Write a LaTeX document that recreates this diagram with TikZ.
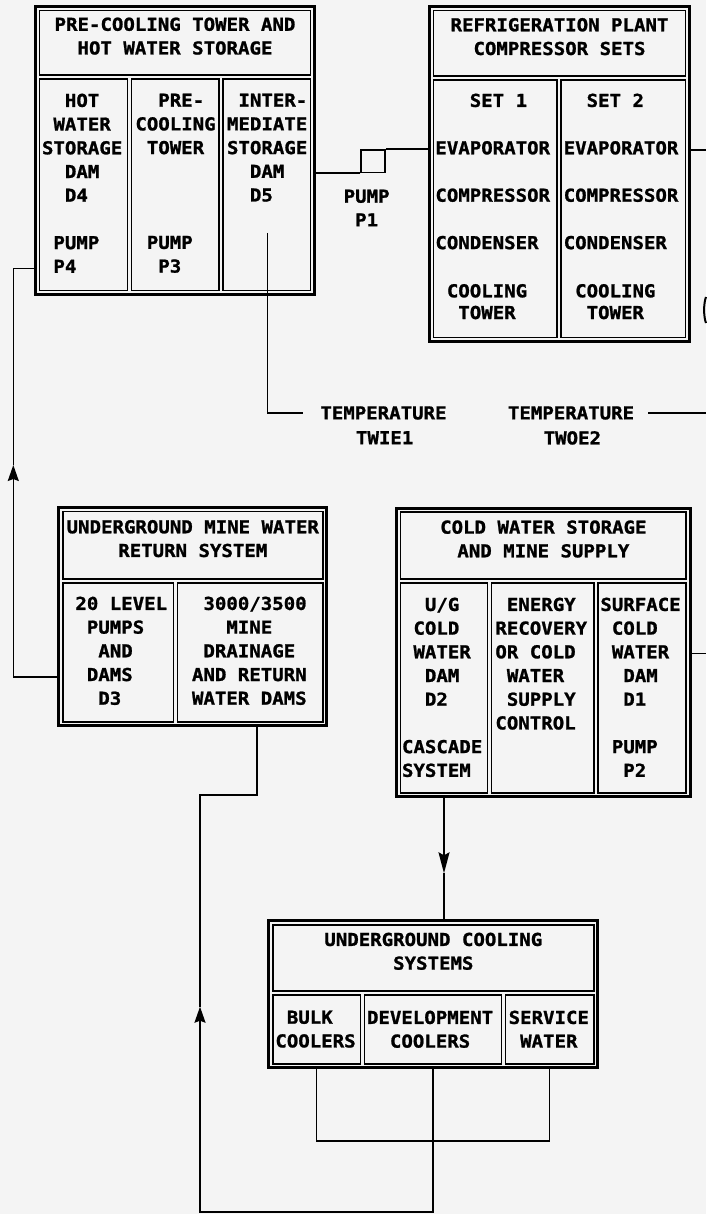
\documentclass[tikz,border=0pt]{standalone}
\usepackage{fontspec}
\setmainfont{DejaVu Sans Mono}[FakeStretch=1.07, BoldFeatures={FakeBold=1.2}]
\usetikzlibrary{fit,arrows.meta}
\newcommand{\onesp}{\hphantom{X}}
\newcommand{\plotfont}{\bfseries\fontsize{17.8}{23.7}\selectfont}
\definecolor{paper}{RGB}{244,244,244}
\begin{document}
\begin{tikzpicture}[x=1pt,y=-1pt,
  outerbox/.style={draw,line width=3.2pt,inner sep=0pt},
  cell/.style={draw,line width=1.8pt,inner sep=0pt,align=center,font=\plotfont},
  txt/.style={inner sep=0pt,align=left,anchor=north west,font=\plotfont},
  conn/.style={line width=1.5pt},
  arrowup/.style={-{Stealth[length=16pt,width=11pt,inset=2pt]}},
  arrowlong/.style={-{Stealth[length=21pt,width=11pt,inset=3pt]}}]
\fill[paper] (0,0) rectangle (706,1214);
\useasboundingbox (0,0) rectangle (706,1214);

% ---------- Box A: pre-cooling tower and hot water storage
\node[outerbox, fit={(35.5,6.5) (314.5,294.5)}] (Aout) {};
\node[cell, fit={(39.5,10.5) (310.5,75)}] (A0) {PRE-COOLING TOWER AND\\HOT WATER STORAGE};
\node[cell, fit={(39.5,79) (127.5,290.5)}] (A1) {};
\node[cell, fit={(131.5,79) (219,290.5)}] (A2) {};
\node[cell, fit={(223,79) (310.5,290.5)}] (A3) {};
\node[txt] (A1t) at (41.8,93.5) {\onesp\onesp HOT\\\onesp WATER\\STORAGE\\\onesp\onesp DAM\\\onesp\onesp D4\\[23.7pt]\onesp PUMP\\\onesp P4};
\node[txt] (A2t) at (135.2,93.5) {\onesp\onesp PRE-\\COOLING\\\onesp TOWER\\[71.1pt]\onesp PUMP\\\onesp\onesp P3};
\node[txt] (A3t) at (226.8,93.5) {\onesp INTER-\\MEDIATE\\STORAGE\\\onesp\onesp DAM\\\onesp\onesp D5};

% ---------- Box B: refrigeration plant
\node[outerbox, fit={(429.5,6.5) (689.5,341.5)}] (Bout) {};
\node[cell, fit={(433.5,10.5) (685.5,76)}] (B0) {REFRIGERATION PLANT\\COMPRESSOR SETS};
\node[cell, fit={(433.5,80) (557,337.5)}] (B1) {};
\node[cell, fit={(561,80) (685.5,337.5)}] (B2) {};
\node[txt] (B1t) at (435.2,93.5) {\onesp\onesp\onesp SET 1\\[23.7pt]EVAPORATOR\\[23.7pt]COMPRESSOR\\[23.7pt]CONDENSER\\[24.5pt]\onesp COOLING\\[-2pt]\onesp\onesp TOWER};
\node[txt] (B2t) at (563.5,93.5) {\onesp\onesp SET 2\\[23.7pt]EVAPORATOR\\[23.7pt]COMPRESSOR\\[23.7pt]CONDENSER\\[24.5pt]\onesp COOLING\\[-2pt]\onesp\onesp TOWER};

% ---------- Box C: underground mine water return
\node[outerbox, fit={(58.8,507.5) (326.8,725.8)}] (Cout) {};
\node[cell, fit={(62.8,511.5) (322.8,579)}] (C0) {UNDERGROUND MINE WATER\\RETURN SYSTEM};
\node[cell, fit={(62.8,583) (173.5,721.8)}] (C1) {};
\node[cell, fit={(177.5,583) (322.8,721.8)}] (C2) {};
\node[txt] (C1t) at (75.2,596.5) {20 LEVEL\\\onesp PUMPS\\\onesp\onesp AND\\\onesp DAMS\\\onesp\onesp D3};
\node[txt] (C2t) at (191.8,596.5) {\onesp 3000/3500\\\onesp\onesp\onesp MINE\\\onesp DRAINAGE\\AND RETURN\\WATER DAMS};

% ---------- Box E: cold water storage
\node[outerbox, fit={(396.5,508.2) (690.2,796.8)}] (Eout) {};
\node[cell, fit={(400.5,512.2) (686.2,579)}] (E0) {COLD WATER STORAGE\\AND MINE SUPPLY};
\node[cell, fit={(400.5,583) (487.5,792.8)}] (E1) {};
\node[cell, fit={(491.5,583) (593.8,792.8)}] (E2) {};
\node[cell, fit={(597.8,583) (686.2,792.8)}] (E3) {};
\node[txt] (E1t) at (401.8,597.5) {\onesp\onesp U/G\\\onesp COLD\\\onesp WATER\\\onesp\onesp DAM\\\onesp\onesp D2\\[23.7pt]CASCADE\\SYSTEM};
\node[txt] (E2t) at (495.2,597.5) {\onesp ENERGY\\RECOVERY\\OR COLD\\\onesp WATER\\\onesp SUPPLY\\CONTROL};
\node[txt] (E3t) at (600.2,597.5) {SURFACE\\\onesp COLD\\\onesp WATER\\\onesp\onesp DAM\\\onesp\onesp D1\\[23.7pt]\onesp PUMP\\\onesp\onesp P2};

% ---------- Box D: underground cooling systems
\node[outerbox, fit={(268.8,920.8) (597.8,1067.8)}] (Dout) {};
\node[cell, fit={(272.8,924.8) (593.8,991)}] (D0) {UNDERGROUND COOLING\\SYSTEMS};
\node[cell, fit={(272.8,995) (360.5,1063.8)}] (D1) {};
\node[cell, fit={(364.5,995) (501.5,1063.8)}] (D2) {};
\node[cell, fit={(505.5,995) (593.8,1063.8)}] (D3) {};
\node[txt] (D1t) at (275.2,1010.5) {\onesp BULK\\COOLERS};
\node[txt] (D2t) at (366.8,1010.5) {DEVELOPMENT\\\onesp\onesp COOLERS};
\node[txt] (D3t) at (508.5,1010.5) {SERVICE\\\onesp WATER};

% ---------- pump P1
\node[draw, line width=1.5pt, inner sep=0pt, fit={(361,150) (385,172.5)}] (pumpbox) {};
\node[txt] (pumplbl) at (343.5,189.5) {PUMP\\\onesp P1};
\draw[conn] (pumpbox.south west) -- (pumpbox.south west -| Aout.east);
\draw[conn] (pumpbox.north east) -- (pumpbox.north east -| Bout.west);

% ---------- temperature labels
\node[font=\plotfont, inner ysep=0pt, inner xsep=17pt, anchor=west] (temp1) at (303.2,413) {TEMPERATURE};
\node[txt] (temp1id) at (355.8,431) {TWIE1};
\node[font=\plotfont, inner ysep=0pt, inner xsep=14pt, anchor=east] (temp2) at (648.3,413) {TEMPERATURE};
\node[txt] (temp2id) at (543.5,431) {TWOE2};
\coordinate (twsrc) at (267.3,233);
\draw[conn] (twsrc) |- (temp1.west);
\coordinate (tedge) at (706,413);
\draw[conn] (temp2.east) -- (temp2.east -| tedge);

% ---------- lines leaving at the right edge
\coordinate (bedge) at (706,150);
\draw[conn] (Bout.east |- bedge) -- (bedge);
\coordinate (eedge) at (706,653.5);
\draw[conn] (Eout.east |- eedge) -- (eedge);
\draw[line width=2pt] (706,297) .. controls (703.5,303) and (703.5,317) .. (706,323);

% ---------- return loop C -> A
\coordinate (lu) at (13.3,268.3);
\coordinate (ll) at (13.3,677);
\coordinate (luarrow) at (13.3,465);
\draw[conn, arrowup] (Cout.west |- ll) -- (ll) -- (luarrow);
\draw[conn] (luarrow) -- (lu) -- (Aout.west |- lu);

% ---------- supply E -> D
\coordinate (edarrow) at (443.5,873.3);
\draw[conn, arrowlong] (E1.south |- Eout.south) -- (E1.south |- edarrow);
\draw[conn] (E1.south |- edarrow) -- (E1.south |- Dout.north);

% ---------- return D -> C
\coordinate (cb1) at (257,795);
\coordinate (cb2) at (200,795);
\coordinate (cb3) at (200,1211.8);
\coordinate (cbarrow) at (200,1006.7);
\draw[conn, arrowup] (D2.south |- Dout.south) -- (D2.south |- cb3) -- (cb3) -- (cbarrow);
\draw[conn] (cbarrow) -- (cb2) -- (cb1) -- (cb1 |- Cout.south);

% ---------- bulk coolers / service water loop
\coordinate (dl) at (316,1141);
\draw[conn] (D1.south |- Dout.south) -- (D1.south |- dl) -- (D3.south |- dl) -- (D3.south |- Dout.south);
\end{tikzpicture}
\end{document}
